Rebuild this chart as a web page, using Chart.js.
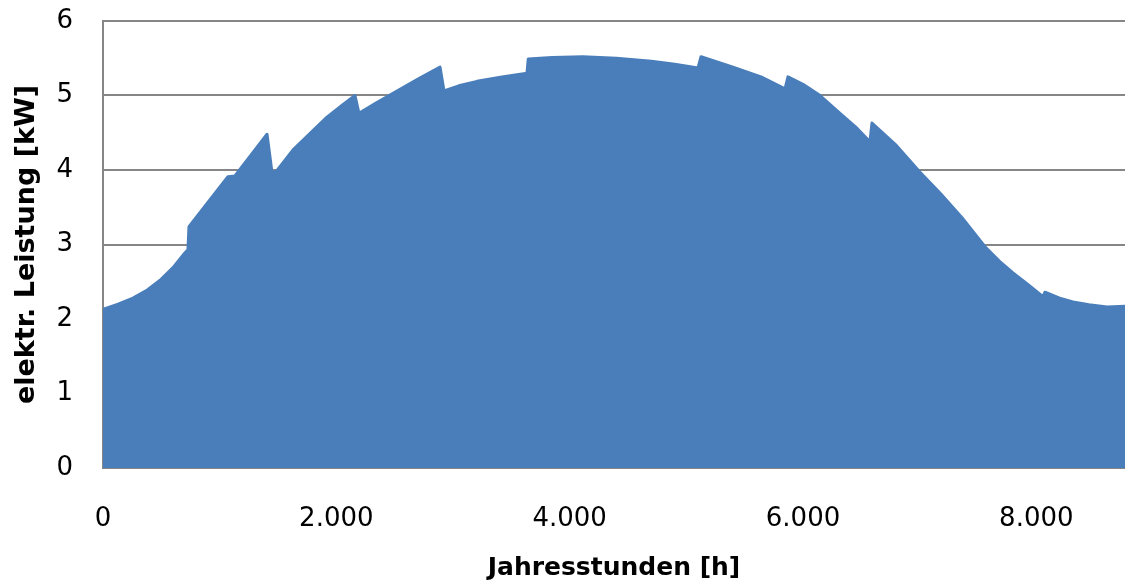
<!DOCTYPE html>
<html>
<head>
<meta charset="utf-8">
<script src="https://cdn.jsdelivr.net/npm/chart.js@4"></script>
<style>
  body { margin: 0; background: #fff; }
</style>
</head>
<body>
<canvas id="pvChart" width="1125" height="584"></canvas>
<script>
// Envelope of the hourly PV output over the year (daily peaks)
const hours = [0, 130, 257, 380, 489, 600, 703, 728, 737, 1071, 1131, 1406, 1449, 1490, 1629, 1780, 1920, 2050, 2160, 2194,
  2340, 2486, 2700, 2889, 2923, 3050, 3206, 3420, 3634, 3645, 3850, 4114, 4400, 4700, 4900, 5100, 5126,
  5400, 5640, 5846, 5871, 6000, 6146, 6317, 6450, 6574, 6591, 6800, 7003, 7180, 7363, 7560, 7680, 7800,
  7930, 8057, 8074, 8200, 8314, 8450, 8606, 8760];
const kw = [2.13, 2.20, 2.28, 2.39, 2.52, 2.69, 2.89, 2.93, 3.24, 3.91, 3.92, 4.48, 3.96, 3.99, 4.27, 4.50, 4.71, 4.87, 5.00, 4.76,
  4.90, 5.03, 5.22, 5.38, 5.06, 5.13, 5.19, 5.25, 5.30, 5.49, 5.51, 5.52, 5.50, 5.46, 5.42, 5.37, 5.52,
  5.38, 5.25, 5.09, 5.25, 5.15, 5.00, 4.76, 4.58, 4.38, 4.63, 4.33, 3.97, 3.68, 3.36, 2.97, 2.78, 2.62,
  2.46, 2.30, 2.36, 2.28, 2.23, 2.19, 2.16, 2.17];
const xTicks = [0, 2000, 4000, 6000, 8000];
const yTicks = [0, 1, 2, 3, 4, 5, 6];

const blue = '#4a7ebb';
const grey = '#868686';
const tickFont = { family: 'DejaVu Sans', size: 26 };
const titleFont = { family: 'DejaVu Sans', size: 25, weight: 'bold' };

function formatDe(v) {
    return String(v).replace(/\B(?=(\d{3})+(?!\d))/g, '.');
}

new Chart(document.getElementById('pvChart'), {
    type: 'line',
    data: {
        datasets: [{
            data: hours.map((h, i) => ({ x: h, y: kw[i] })),
            borderColor: blue,
            backgroundColor: blue,
            borderWidth: 3,
            borderJoinStyle: 'round',
            fill: 'origin',
            pointRadius: 0,
            tension: 0
        }]
    },
    options: {
        responsive: false,
        animation: false,
        layout: { padding: { top: 21, right: 0, left: 0, bottom: 0 } },
        plugins: {
            legend: { display: false },
            tooltip: { enabled: false }
        },
        scales: {
            x: {
                type: 'linear',
                min: 0,
                max: 8760,
                afterBuildTicks: scale => { scale.ticks = xTicks.map(v => ({ value: v })); },
                afterFit: scale => {
                    scale.height = 116;
                    scale.paddingLeft = 0;
                    scale.paddingRight = 0;
                },
                grid: { display: false, drawTicks: false },
                border: { display: false },
                ticks: {
                    color: '#000',
                    font: tickFont,
                    padding: 36,
                    maxRotation: 0,
                    callback: v => formatDe(v)
                },
                title: {
                    display: true,
                    text: 'Jahresstunden [h]',
                    color: '#000',
                    font: titleFont,
                    padding: { top: 0, bottom: 1 }
                }
            },
            y: {
                min: 0,
                max: 6,
                afterBuildTicks: scale => { scale.ticks = yTicks.map(v => ({ value: v })); },
                afterFit: scale => {
                    scale.width = 103;
                    scale.paddingTop = 0;
                    scale.paddingBottom = 0;
                },
                grid: { color: grey, lineWidth: 2, drawTicks: false },
                border: { color: grey, width: 2 },
                ticks: {
                    color: '#000',
                    font: tickFont,
                    padding: 30
                },
                title: {
                    display: true,
                    text: 'elektr. Leistung [kW]',
                    color: '#000',
                    font: { family: 'DejaVu Sans', size: 27, weight: 'bold' },
                    padding: { top: 11, bottom: 0 }
                }
            }
        }
    }
});
</script>
</body>
</html>
